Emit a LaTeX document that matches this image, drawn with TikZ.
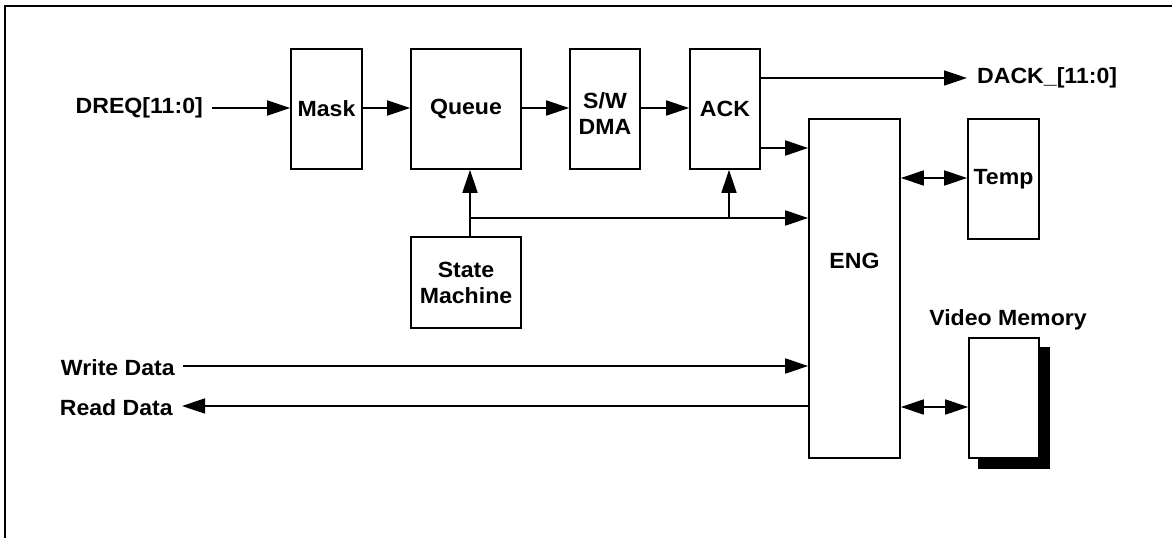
\documentclass[tikz,border=0pt]{standalone}
\usepackage{fontspec}
\setmainfont{Liberation Sans}[FakeStretch=1.05]
\usetikzlibrary{arrows.meta}
\tikzset{
  lab/.style={font=\bfseries\fontsize{22}{25}\selectfont, inner sep=0pt},
  blk/.style={draw, line width=1.6pt, rectangle, inner sep=0pt, font=\bfseries\fontsize{22}{25}\selectfont, align=center},
  conn/.style={line width=1.6pt, -{Triangle[length=23pt,width=15pt]}},
  biconn/.style={line width=1.6pt, {Triangle[length=23pt,width=15pt]}-{Triangle[length=23pt,width=15pt]}},
  plain/.style={line width=1.6pt}
}
\begin{document}
\begin{tikzpicture}[x=1pt,y=-1pt]
\useasboundingbox (0,0) rectangle (1172,538);
% frame
\draw[line width=2.2pt] (5,538) -- (5,6) -- (1172,6);

% blocks
\node[blk, minimum width=71pt, minimum height=120pt] (mask) at (326.5,109) {Mask};
\node[blk, minimum width=110pt, minimum height=120pt] (queue) at (466,109) {Queue};
\node[blk, minimum width=70pt, minimum height=120pt,
      label={[lab, align=center, yshift=-5pt]center:S/W\\[1pt]DMA}] (dma) at (605,109) {};
\node[blk, minimum width=70pt, minimum height=120pt] (ack) at (725,109) {ACK};
\node[blk, minimum width=110pt, minimum height=91pt] (sm) at (466,282.5) {State\\[1pt]Machine};
\node[blk, minimum width=91pt, minimum height=339pt,
      label={[lab, yshift=28pt]center:ENG}] (eng) at (854.5,288.5) {};
\node[blk, minimum width=71pt, minimum height=120pt] (temp) at (1003.5,179) {Temp};
% video memory with shadow
\fill (978,347) rectangle (1050,469);
\node[blk, fill=white, minimum width=70pt, minimum height=120pt] (vm) at (1004,398) {};
\node[lab] (vmlab) at (1008,320) {Video Memory};

% signal labels
\node[lab, anchor=east] (dreq) at (203,108) {DREQ[11:0]};
\node[lab, anchor=west] (dack) at (977,78) {DACK\_[11:0]};
\node[lab, anchor=east] (wd) at (175,368) {Write Data};
\node[lab, anchor=east] (rd) at (173,408) {Read Data};

% coordinates
\coordinate (j1) at (470,218);
\coordinate (j2) at (729,218);
\coordinate (dackend) at (967,78);

% connectors
\draw[conn] ([xshift=9pt]dreq.east) -- (mask.west |- dreq.east);
\draw[conn] (mask.east |- 0,108) -- (queue.west |- 0,108);
\draw[conn] (queue.east |- 0,108) -- (dma.west |- 0,108);
\draw[conn] (dma.east |- 0,108) -- (ack.west |- 0,108);
\draw[conn] (ack.east |- dackend) -- (dackend);
\draw[conn] (ack.east |- 0,148) -- (eng.west |- 0,148);
\draw[conn] (sm.north -| j1) -- (queue.south -| j1);
\draw[conn] (j1) -- (eng.west |- j1);
\draw[conn] (j2) -- (ack.south -| j2);
\draw[biconn] (eng.east |- 0,178) -- (temp.west |- 0,178);
\draw[biconn] (eng.east |- 0,407) -- (vm.west |- 0,407);
\draw[conn] ([xshift=8pt]wd.east |- 0,366) -- (eng.west |- 0,366);
\draw[conn] (eng.west |- 0,406) -- ([xshift=9pt]rd.east |- 0,406);
\end{tikzpicture}
\end{document}
